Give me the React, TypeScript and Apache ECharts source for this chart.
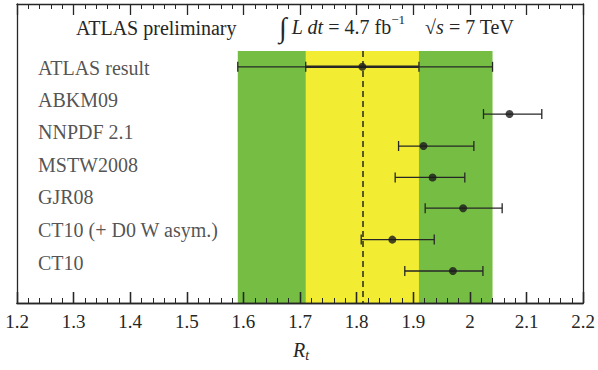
import React, { useEffect, useRef } from "react";
import * as echarts from "echarts";

const labels = ["ATLAS result", "ABKM09", "NNPDF 2.1", "MSTW2008", "GJR08", "CT10 (+ D0 W asym.)", "CT10"];
const labelRows = [2.14, 3.21, 4.29, 5.38, 6.45, 7.56, 8.66];
const pointRows = [2.1, 3.68, 4.75, 5.8, 6.83, 7.88, 8.93];
const centers = [1.81, 2.07, 1.918, 1.934, 1.988, 1.863, 1.97];
const lows = [1.59, 2.024, 1.874, 1.868, 1.921, 1.808, 1.885];
const highs = [2.04, 2.127, 2.007, 1.991, 2.057, 1.937, 2.023];
const statLow = 1.71;
const statHigh = 1.91;
const totalBand = [1.59, 2.04];
const statBand = [1.71, 1.91];
const bandTop = 1.57;
const xTicks = [1.2, 2.2, 0.1];

const FONT = "Liberation Serif";
const INK = "#262626";

export default function App() {
  const ref = useRef<HTMLDivElement>(null);
  useEffect(() => {
    const chart = echarts.init(ref.current!, null, { renderer: "svg" });
    const errData = centers.map((c, i) => [c, lows[i], highs[i], pointRows[i]]);
    const statData = [[centers[0], statLow, statHigh, pointRows[0]]];
    const mkRender = (lw: number, capH: number) => (params: any, api: any) => {
      const y = api.value(3);
      const lo = api.coord([api.value(1), y]);
      const hi = api.coord([api.value(2), y]);
      const st = { stroke: INK, lineWidth: lw };
      const cst = { stroke: INK, lineWidth: 1.3 };
      return {
        type: "group",
        children: [
          { type: "line", shape: { x1: lo[0], y1: lo[1], x2: hi[0], y2: hi[1] }, style: st },
          { type: "line", shape: { x1: lo[0], y1: lo[1] - capH, x2: lo[0], y2: lo[1] + capH }, style: cst },
          { type: "line", shape: { x1: hi[0], y1: hi[1] - capH, x2: hi[0], y2: hi[1] + capH }, style: cst },
        ],
      };
    };
    const mkAxis = (pos: string, showLabel: boolean) => ({
      type: "value",
      position: pos,
      min: xTicks[0],
      max: xTicks[1],
      interval: xTicks[2],
      z: 10,
      splitLine: { show: false },
      axisLine: { show: true, onZero: false, lineStyle: { color: INK, width: 1.3 } },
      axisTick: { show: true, inside: true, length: 11, lineStyle: { color: INK, width: 1.3 } },
      minorTick: { show: true, splitNumber: 5, length: 5, lineStyle: { color: INK, width: 1 } },
      axisLabel: {
        show: showLabel,
        fontFamily: FONT,
        fontSize: 19,
        color: INK,
        margin: 9,
      },
    });
    const mkY = (pos: string) => ({
      type: "value",
      position: pos,
      min: 0,
      max: 10,
      inverse: true,
      z: 10,
      splitLine: { show: false },
      axisTick: { show: false },
      axisLabel: { show: false },
      axisLine: { show: true, onZero: false, lineStyle: { color: INK, width: 1.3 } },
    });
    chart.setOption({
      animation: false,
      grid: { left: 17, right: 14, top: 4, bottom: 67 },
      xAxis: [mkAxis("bottom", true), mkAxis("top", false), mkAxis("bottom", false)],
      yAxis: [mkY("left"), mkY("right")],
      series: [
        {
          type: "scatter",
          data: [],
          z: 1,
          silent: true,
          markArea: {
            silent: true,
            itemStyle: { color: "#76BE43" },
            data: [[{ xAxis: totalBand[0], yAxis: bandTop }, { xAxis: totalBand[1], yAxis: 10 }]],
          },
        },
        {
          type: "scatter",
          data: [],
          z: 1.5,
          silent: true,
          markArea: {
            silent: true,
            itemStyle: { color: "#F2EC33" },
            data: [[{ xAxis: statBand[0], yAxis: bandTop }, { xAxis: statBand[1], yAxis: 10 }]],
          },
          markLine: {
            silent: true,
            symbol: "none",
            label: { show: false },
            lineStyle: { color: INK, type: [6, 4], width: 1.5 },
            data: [[{ coord: [centers[0], bandTop] }, { coord: [centers[0], 10] }]],
          },
        },
        {
          type: "custom",
          z: 3,
          renderItem: mkRender(1.3, 5),
          encode: { x: [0, 1, 2], y: 3 },
          data: errData,
        },
        {
          type: "custom",
          z: 3,
          renderItem: mkRender(2.4, 5),
          encode: { x: [0, 1, 2], y: 3 },
          data: statData,
        },
        {
          type: "scatter",
          z: 4,
          symbolSize: 8,
          itemStyle: { color: "#1a1a1a" },
          data: centers.map((c, i) => [c, pointRows[i]]),
        },
        {
          type: "scatter",
          z: 4,
          symbolSize: 0,
          data: labels.map((l, i) => ({ value: [xTicks[0], labelRows[i]], name: l })),
          label: {
            show: true,
            position: "right",
            distance: 21,
            formatter: (p: any) => p.name,
            fontFamily: FONT,
            fontSize: 20,
            color: INK,
          },
        },
      ],
      graphic: [
        {
          type: "text",
          left: 76,
          top: 18,
          style: { text: "ATLAS preliminary", fontFamily: FONT, fontSize: 20, fill: INK },
        },
        {
          type: "text",
          left: 279,
          top: 13,
          style: {
            text: "{int|∫} {it|L dt} = 4.7 fb{sup|−1}    √{it|s} = 7 TeV",
            fill: INK,
            fontFamily: FONT,
            fontSize: 20,
            rich: {
              int: { fontFamily: FONT, fontSize: 28, fill: INK },
              it: { fontFamily: FONT, fontStyle: "italic", fontSize: 20, fill: INK },
              sup: { fontFamily: FONT, fontSize: 13, fill: INK, verticalAlign: "top", padding: [0, 0, 8, 0] },
            },
          },
        },
        {
          type: "text",
          left: 293,
          top: 340,
          style: {
            text: "{it|R}{sub|t}",
            fill: INK,
            rich: {
              it: { fontFamily: FONT, fontStyle: "italic", fontSize: 20, fill: INK },
              sub: { fontFamily: FONT, fontStyle: "italic", fontSize: 14, fill: INK, padding: [10, 0, 0, 0] },
            },
          },
        },
      ],
    });
    return () => chart.dispose();
  }, []);
  return <div ref={ref} style={{ width: 598, height: 370, position: "absolute", left: 0, top: 0 }} />;
}
